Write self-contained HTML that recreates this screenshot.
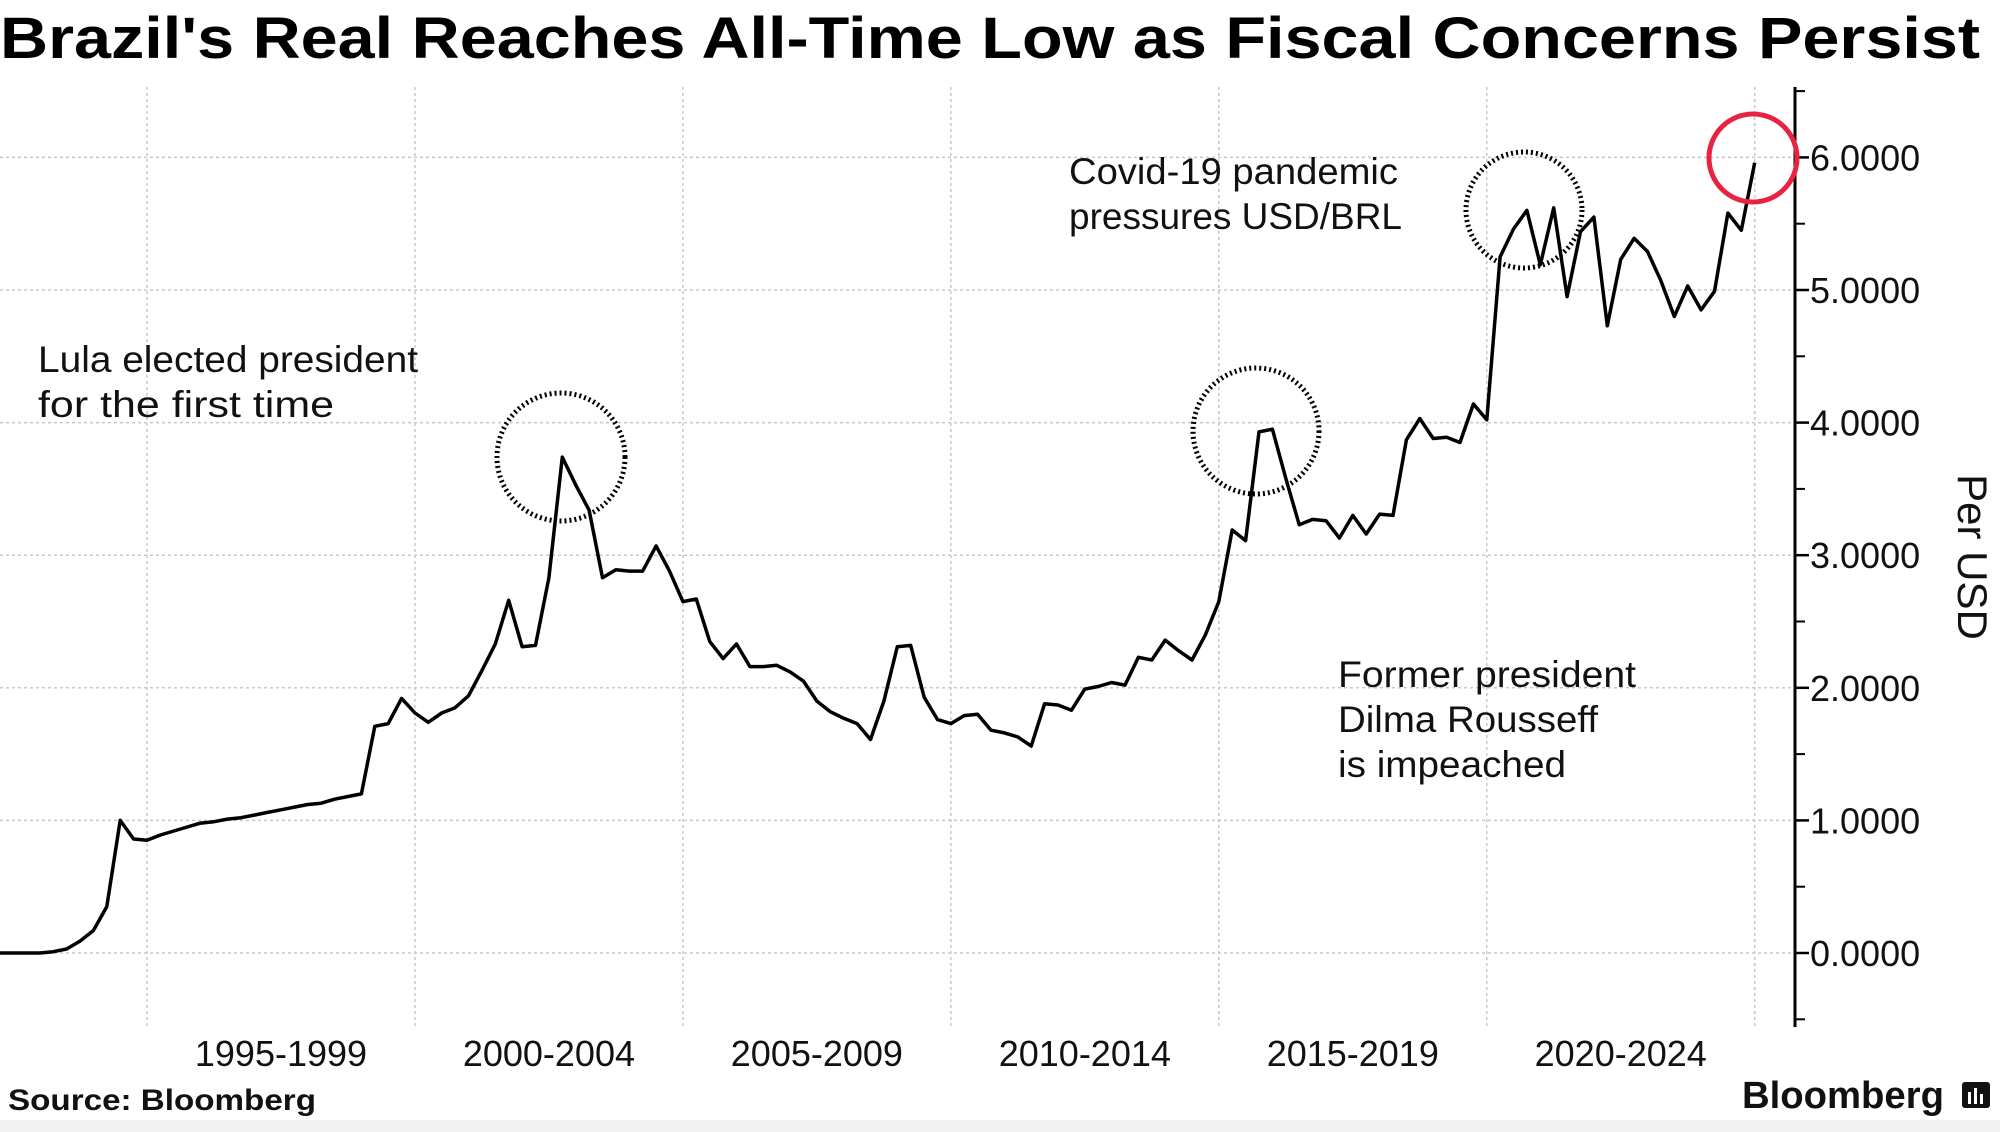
<!DOCTYPE html>
<html><head><meta charset="utf-8"><style>
html,body{margin:0;padding:0;background:#fff;}
svg{display:block;font-family:"Liberation Sans",sans-serif;}
</style></head><body>
<svg width="2000" height="1132" viewBox="0 0 2000 1132" id="chart">
<rect x="0" y="1120" width="2000" height="12" fill="#f2f2f2"/>
<text x="0" y="58" font-size="58" font-weight="bold" textLength="1980" lengthAdjust="spacingAndGlyphs" fill="#000">Brazil's Real Reaches All-Time Low as Fiscal Concerns Persist</text>
<g id="grid"></g>
<g id="axis"></g>
<g id="xlabels"></g>
<path id="line" fill="none" stroke="#000" stroke-width="3.5" stroke-linejoin="round"/>
<circle cx="561" cy="457" r="64" fill="none" stroke="#000" stroke-width="5" stroke-dasharray="2 3"/>
<circle cx="1256" cy="431" r="63" fill="none" stroke="#000" stroke-width="5" stroke-dasharray="2 3"/>
<circle cx="1524" cy="210" r="58" fill="none" stroke="#000" stroke-width="5" stroke-dasharray="2 3"/>
<circle cx="1753" cy="158" r="44" fill="none" stroke="#e8233f" stroke-width="5"/>
<g font-size="37" fill="#111" lengthAdjust="spacingAndGlyphs">
<text x="38" y="372" textLength="380" lengthAdjust="spacingAndGlyphs">Lula elected president</text>
<text x="38" y="417" textLength="296" lengthAdjust="spacingAndGlyphs">for the first time</text>
<text x="1069" y="184" textLength="329" lengthAdjust="spacingAndGlyphs">Covid-19 pandemic</text>
<text x="1069" y="229" textLength="333" lengthAdjust="spacingAndGlyphs">pressures USD/BRL</text>
<text x="1338" y="687" textLength="298" lengthAdjust="spacingAndGlyphs">Former president</text>
<text x="1338" y="732" textLength="260" lengthAdjust="spacingAndGlyphs">Dilma Rousseff</text>
<text x="1338" y="777" textLength="228" lengthAdjust="spacingAndGlyphs">is impeached</text>
</g>
<text transform="translate(1958,557) rotate(90)" text-anchor="middle" font-size="42" fill="#111">Per USD</text>
<text x="8" y="1110" font-size="30" font-weight="bold" fill="#111" textLength="308" lengthAdjust="spacingAndGlyphs">Source: Bloomberg</text>
<text x="1742" y="1108" font-size="38" font-weight="bold" fill="#111" textLength="202" lengthAdjust="spacingAndGlyphs">Bloomberg</text>
<g><rect x="1962" y="1082" width="28" height="26" rx="3" fill="#111"/><rect x="1968" y="1092" width="3" height="12" fill="#fff"/><rect x="1974" y="1088" width="3" height="16" fill="#fff"/><rect x="1980" y="1094" width="3" height="10" fill="#fff"/></g>
</svg>
<script>
const startYear = 1992.25;
const stepYears = 0.25;
const values = [0.00,0.00,0.00,0.00,0.01,0.03,0.09,0.17,0.35,1.00,0.86,0.85,0.89,0.92,0.95,0.98,0.99,1.01,1.02,1.04,1.06,1.08,1.10,1.12,1.13,1.16,1.18,1.20,1.71,1.73,1.92,1.81,1.74,1.81,1.85,1.94,2.13,2.33,2.66,2.31,2.32,2.83,3.74,3.53,3.34,2.83,2.89,2.88,2.88,3.07,2.88,2.65,2.67,2.35,2.22,2.33,2.16,2.16,2.17,2.12,2.05,1.90,1.82,1.77,1.73,1.61,1.90,2.31,2.32,1.93,1.76,1.73,1.79,1.80,1.68,1.66,1.63,1.56,1.88,1.87,1.83,1.99,2.01,2.04,2.02,2.23,2.21,2.36,2.28,2.21,2.40,2.65,3.19,3.11,3.93,3.95,3.58,3.23,3.27,3.26,3.13,3.30,3.16,3.31,3.30,3.87,4.03,3.88,3.89,3.85,4.14,4.02,5.25,5.46,5.60,5.19,5.62,4.95,5.44,5.55,4.73,5.23,5.39,5.29,5.07,4.80,5.03,4.85,4.99,5.58,5.45,5.96];
const xCategories = ["1995-1999","2000-2004","2005-2009","2010-2014","2015-2019","2020-2024"];
const xGridYears = [1995,2000,2005,2010,2015,2020,2025];
const yTicks = [0,1,2,3,4,5,6];
const yTickLabels = ["0.0000","1.0000","2.0000","3.0000","4.0000","5.0000","6.0000"];

const NS="http://www.w3.org/2000/svg";
const X = yr => 147 + (yr-1995)*53.59;
const Y = v => 953 - v*132.6;
const AX = 1795;
function mk(tag, attrs, parent){const e=document.createElementNS(NS,tag);for(const k in attrs)e.setAttribute(k,attrs[k]);parent.appendChild(e);return e;}
const grid=document.getElementById('grid'), axis=document.getElementById('axis'), xl=document.getElementById('xlabels');
yTicks.forEach((t,i)=>{
  const g=mk('line',{x1:0,x2:AX,y1:Y(t),y2:Y(t),stroke:'#c8c8c8','stroke-width':1.5,'stroke-dasharray':'3 3'},grid);
  
  
  const tk=mk('line',{x1:AX,x2:AX+14,y1:Y(t),y2:Y(t),stroke:'#000','stroke-width':2.5},axis);
  
  
  const mt=mk('line',{x1:AX,x2:AX+10,y1:Y(t+0.5),y2:Y(t+0.5),stroke:'#000','stroke-width':2},axis);
  
  
  const lb=mk('text',{x:AX+15,y:Y(t)+13,'font-size':36,fill:'#111'},axis);
  lb.textContent=yTickLabels[i];
  
  
});
const mt0=mk('line',{x1:AX,x2:AX+10,y1:Y(-0.5),y2:Y(-0.5),stroke:'#000','stroke-width':2},axis);


const al=mk('line',{x1:AX,x2:AX,y1:87,y2:1027,stroke:'#000','stroke-width':3},axis);


xGridYears.forEach(yr=>{
  const g=mk('line',{x1:X(yr),x2:X(yr),y1:87,y2:1027,stroke:'#c8c8c8','stroke-width':1.5,'stroke-dasharray':'3 3'},grid);
  
  
});
xCategories.forEach((c,i)=>{
  const t=mk('text',{x:X(xGridYears[i]+2.5),y:1066,'text-anchor':'middle','font-size':36,fill:'#111'},xl);
  t.textContent=c;
  
  
});
document.getElementById('line').setAttribute('d', values.map((v,i)=>(i?'L':'M')+X(startYear+i*stepYears).toFixed(1)+','+Y(v).toFixed(1)).join(' '));
</script>
</body></html>
